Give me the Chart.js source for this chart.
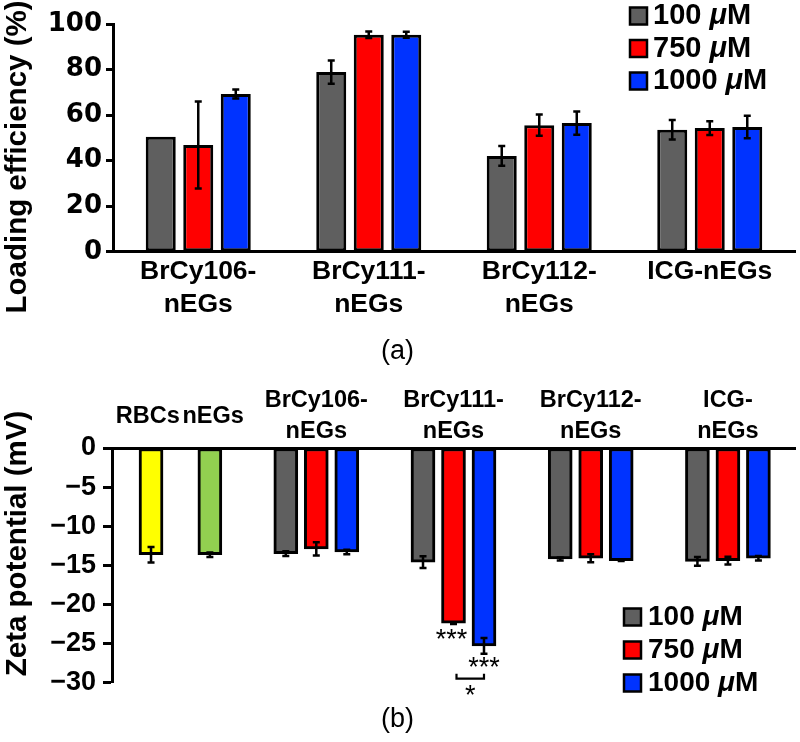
<!DOCTYPE html>
<html>
<head>
<meta charset="utf-8">
<script src="https://cdn.jsdelivr.net/npm/chart.js@4.4.1/dist/chart.umd.min.js"></script>
<style>
    html, body { margin: 0; padding: 0; background: #fff; }
    #wrapA { position: absolute; left: 0; top: 0; width: 800px; height: 370px; }
    #wrapB { position: absolute; left: 0; top: 370px; width: 800px; height: 372px; }
</style>
</head>
<body>
<div id="wrapA"><canvas id="chartA"></canvas></div>
<div id="wrapB"><canvas id="chartB"></canvas></div>
<script>
// ---- dados (a): eficiência de carregamento (%)
const loadCats = [['BrCy106-', 'nEGs'], ['BrCy111-', 'nEGs'], ['BrCy112-', 'nEGs'], 'ICG-nEGs'];
const concLabels = ['100 μM', '750 μM', '1000 μM'];
const load100 = [50.5, 78.9, 42.1, 53.6];
const load750 = [46.9, 95.3, 55.6, 54.3];
const load1000 = [69.3, 95.3, 56.5, 54.8];
const load100Err = [0, 5.1, 4.3, 4.3];
const load750Err = [19.1, 1.4, 4.7, 3.0];
const load1000Err = [2.0, 1.3, 5.1, 4.9];
const loadTicks = [0, 20, 40, 60, 80, 100];

// ---- dados (b): potencial zeta (mV)
const zetaCats = ['RBCs ', ' nEGs', ['BrCy106-', 'nEGs'], ['BrCy111-', 'nEGs'], ['BrCy112-', 'nEGs'], ['ICG-', 'nEGs']];
const zetaRBC = [-13.65];
const zetaRBCErr = [1.0];
const zetaNEG = [-13.65];
const zetaNEGErr = [0.3];
const zeta100 = [-13.5, -14.6, -14.2, -14.5];
const zeta750 = [-12.9, -22.4, -14.1, -14.4];
const zeta1000 = [-13.3, -25.3, -14.4, -14.1];
const zeta100Err = [0.3, 0.75, 0.2, 0.55];
const zeta750Err = [0.85, 0.1, 0.5, 0.5];
const zeta1000Err = [0.3, 1.0, 0.05, 0.3];
const zetaTicks = [0, -5, -10, -15, -20, -25, -30];

// posição de cada categoria no eixo x de (b), em unidades de "largura de barra"
const slotAt = [1.28, 3.21, 6.7, 11.2, 15.7, 20.2];
const slotMax = 22.4;

const FONT = '"Liberation Sans", Arial, sans-serif';
const colors = { c100: '#5f5f5f', c750: '#ff0000', c1000: '#0033ff', rbc: '#ffff00', neg: '#92d050' };

Chart.defaults.font.family = FONT;
Chart.defaults.color = '#000';

// título vertical do eixo y
const yTitle = {
    id: 'yTitle',
    afterDraw(chart, args, o) {
        const ctx = chart.ctx;
        ctx.save();
        ctx.translate(o.x, o.y);
        ctx.rotate(-Math.PI / 2);
        ctx.font = 'bold 29.5px ' + FONT;
        ctx.textAlign = 'center';
        ctx.textBaseline = 'middle';
        ctx.fillStyle = '#000';
        ctx.fillText(o.text, 0, 0);
        ctx.restore();
    }
};

// barras de erro
const errorBars = {
    id: 'errorBars',
    afterDatasetsDraw(chart) {
        const ctx = chart.ctx;
        const ys = chart.scales.y;
        ctx.save();
        ctx.strokeStyle = '#000';
        ctx.lineWidth = 2.5;
        chart.data.datasets.forEach(function (d, di) {
            if (!d.errors) return;
            chart.getDatasetMeta(di).data.forEach(function (bar, i) {
                const e = d.errors[i];
                if (!e) return;
                const raw = d.data[i];
                const v = typeof raw === 'object' ? raw.y : raw;
                const t = ys.getPixelForValue(v + e);
                const b = ys.getPixelForValue(v - e);
                ctx.beginPath();
                ctx.moveTo(bar.x, t); ctx.lineTo(bar.x, b);
                ctx.moveTo(bar.x - 3.5, t); ctx.lineTo(bar.x + 3.5, t);
                ctx.moveTo(bar.x - 3.5, b); ctx.lineTo(bar.x + 3.5, b);
                ctx.stroke();
            });
        });
        ctx.restore();
    }
};

// legenda com "μ" em itálico
const concLegend = {
    id: 'concLegend',
    afterDraw(chart, args, o) {
        const ctx = chart.ctx;
        const sets = chart.data.datasets.filter(function (d) { return d.inLegend; });
        ctx.save();
        sets.forEach(function (d, i) {
            const cy = o.y + i * o.gap;
            ctx.fillStyle = d.backgroundColor;
            ctx.fillRect(o.x, cy - o.box / 2, o.box, o.box);
            ctx.lineWidth = 2.5;
            ctx.strokeStyle = '#000';
            ctx.strokeRect(o.x, cy - o.box / 2, o.box, o.box);
            const parts = d.label.split('μ');
            let x = o.x + o.box + o.textGap;
            ctx.fillStyle = '#000';
            ctx.textBaseline = 'middle';
            ctx.textAlign = 'left';
            ctx.font = 'bold ' + o.size + 'px ' + FONT;
            ctx.fillText(parts[0], x, cy);
            x += ctx.measureText(parts[0]).width;
            ctx.font = 'italic bold ' + o.size + 'px ' + FONT;
            ctx.fillText('μ', x, cy);
            x += ctx.measureText('μ').width;
            ctx.font = 'bold ' + o.size + 'px ' + FONT;
            ctx.fillText(parts[1], x, cy);
        });
        ctx.restore();
    }
};

// asteriscos de significância em BrCy111-nEGs
const sigMarks = {
    id: 'sigMarks',
    afterDatasetsDraw(chart) {
        const ctx = chart.ctx;
        const ys = chart.scales.y;
        const red = chart.getDatasetMeta(3).data[1];
        const blue = chart.getDatasetMeta(4).data[1];
        const blueBot = ys.getPixelForValue(zeta1000[1] - zeta1000Err[1]);
        ctx.save();
        ctx.fillStyle = '#000';
        ctx.strokeStyle = '#000';
        ctx.font = '27px ' + FONT;
        ctx.textAlign = 'center';
        ctx.textBaseline = 'alphabetic';
        ctx.fillText('***', red.x - 2, red.y + 25);
        ctx.fillText('***', blue.x, blueBot + 22);
        const by = blueBot + 25;
        const x0 = red.x + 3, x1 = blue.x;
        ctx.lineWidth = 2.2;
        ctx.beginPath();
        ctx.moveTo(x0, by - 5); ctx.lineTo(x0, by); ctx.lineTo(x1, by); ctx.lineTo(x1, by - 5);
        ctx.stroke();
        ctx.fillText('*', (x0 + x1) / 2, by + 25);
        ctx.restore();
    }
};

function barSet(label, data, errors, color, inLegend) {
    return {
        label: label, data: data, errors: errors, inLegend: inLegend,
        backgroundColor: color, borderColor: '#000', borderWidth: 3, borderSkipped: false
    };
}

function yAxis(min, max, width, tickFont, tickLen, pad) {
    return {
        min: min, max: max,
        afterFit: function (s) { s.width = width; },
        grid: { display: true, drawOnChartArea: false, drawTicks: true, tickLength: tickLen, tickWidth: 3, tickColor: '#000' },
        border: { display: true, color: '#000', width: 3 },
        ticks: {
            padding: pad, color: '#000', font: tickFont,
            callback: function (v) { return v < 0 ? '\u2212' + Math.abs(v) : String(v); }
        }
    };
}

function createCharts() {
    // ---- (a)
    const yA = yAxis(0, 100, 113, { family: '"DejaVu Sans", sans-serif', size: 26, weight: 'bold' }, 7, 4);
    yA.afterBuildTicks = function (s) { s.ticks = loadTicks.map(function (v) { return { value: v }; }); };
    new Chart(document.getElementById('chartA').getContext('2d'), {
        type: 'bar',
        data: {
            labels: loadCats,
            datasets: [
                barSet(concLabels[0], load100, load100Err, colors.c100, true),
                barSet(concLabels[1], load750, load750Err, colors.c750, true),
                barSet(concLabels[2], load1000, load1000Err, colors.c1000, true)
            ]
        },
        options: {
            responsive: true, maintainAspectRatio: false, animation: false, devicePixelRatio: 1, events: [],
            categoryPercentage: 0.66, barPercentage: 0.8,
            layout: { padding: { top: 24, right: 5, bottom: 2, left: 0 } },
            scales: {
                x: {
                    afterFit: function (s) { s.height = 83.8; },
                    grid: { display: false, drawTicks: false },
                    border: { display: true, color: '#000', width: 3 },
                    ticks: { padding: 3.5, color: '#000', maxRotation: 0, autoSkip: false,
                        font: { size: 26.5, weight: 'bold', lineHeight: 1.245 } }
                },
                y: yA
            },
            plugins: {
                legend: { display: false },
                tooltip: { enabled: false },
                title: { display: true, position: 'bottom', text: '(a)', color: '#000',
                    font: { size: 27, weight: 'normal', lineHeight: 1.2 }, padding: 0 },
                yTitle: { text: 'Loading efficiency (%)', x: 18, y: 157 },
                concLegend: { x: 630, y: 16, gap: 32.5, box: 17, textGap: 6, size: 29 }
            }
        },
        plugins: [errorBars, yTitle, concLegend]
    });

    // ---- (b)
    const yB = yAxis(-30, 0, 112, { size: 27, weight: 'bold' }, 9, 7);
    yB.afterBuildTicks = function (s) { s.ticks = zetaTicks.map(function (v) { return { value: v }; }); };
    const at = function (vals, k) {
        return vals.map(function (v, i) { return { x: slotAt[i + 2] + (k - 1), y: v }; });
    };
    new Chart(document.getElementById('chartB').getContext('2d'), {
        type: 'bar',
        data: {
            datasets: [
                barSet('RBCs', [{ x: slotAt[0], y: zetaRBC[0] }], zetaRBCErr, colors.rbc, false),
                barSet('nEGs', [{ x: slotAt[1], y: zetaNEG[0] }], zetaNEGErr, colors.neg, false),
                barSet(concLabels[0], at(zeta100, 0), zeta100Err, colors.c100, true),
                barSet(concLabels[1], at(zeta750, 1), zeta750Err, colors.c750, true),
                barSet(concLabels[2], at(zeta1000, 2), zeta1000Err, colors.c1000, true)
            ]
        },
        options: {
            responsive: true, maintainAspectRatio: false, animation: false, devicePixelRatio: 1, events: [],
            grouped: false, barThickness: 24,
            layout: { padding: { top: 0, right: 5, bottom: 6, left: 0 } },
            scales: {
                x: {
                    type: 'linear', position: 'top', min: 0, max: slotMax, offset: false,
                    afterFit: function (s) { s.height = 78; },
                    afterBuildTicks: function (s) { s.ticks = slotAt.map(function (v) { return { value: v }; }); },
                    grid: { display: false, drawTicks: false },
                    border: { display: true, color: '#000', width: 3 },
                    ticks: {
                        padding: 16, color: '#000', maxRotation: 0, autoSkip: false, crossAlign: 'center',
                        font: { size: 23.5, weight: 'bold', lineHeight: 1.36 },
                        callback: function (v, i) { return zetaCats[i]; }
                    }
                },
                y: yB
            },
            plugins: {
                legend: { display: false },
                tooltip: { enabled: false },
                title: { display: true, position: 'bottom', text: '(b)', color: '#000',
                    font: { size: 27, weight: 'normal', lineHeight: 1.2 }, padding: { top: 21, bottom: 0 } },
                yTitle: { text: 'Zeta potential (mV)', x: 18, y: 173.5 },
                concLegend: { x: 624, y: 247, gap: 33, box: 17, textGap: 7, size: 28 }
            }
        },
        plugins: [errorBars, sigMarks, yTitle, concLegend]
    });
}

createCharts();
</script>
</body>
</html>
